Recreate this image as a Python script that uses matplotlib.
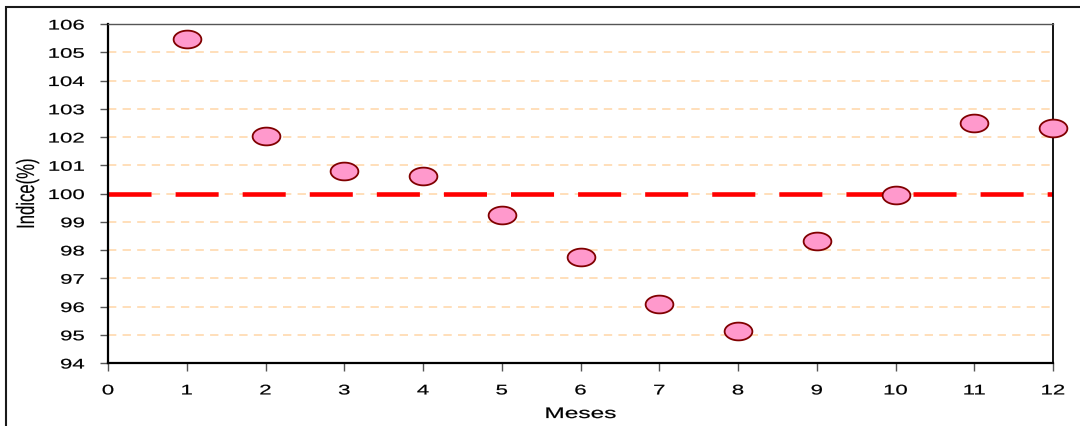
import matplotlib
matplotlib.use("Agg")
import matplotlib.pyplot as plt
from matplotlib.path import Path
from matplotlib.patches import Rectangle
from matplotlib.patheffects import AbstractPathEffect
from matplotlib.transforms import Affine2D
import numpy as np

# Monthly index values (%)
meses = [1, 2, 3, 4, 5, 6, 7, 8, 9, 10, 11, 12]
indice = [105.47, 102.04, 100.80, 100.62, 99.24, 97.75, 96.09, 95.13, 98.32, 99.95, 102.50, 102.32]
referencia = 100
x_ticks = list(range(0, 13))
y_ticks = list(range(94, 107))

plt.rcParams['font.family'] = ['Liberation Sans', 'DejaVu Sans']
plt.rcParams['lines.scale_dashes'] = False


class Stretch(AbstractPathEffect):
    """Widen glyphs in their own coordinates (sx along the line, sy across it),
    with an optional thin outline in the text colour to thicken strokes."""

    def __init__(self, sx=1.0, sy=1.0, anchor='center', stroke=0.0):
        super().__init__()
        self.sx, self.sy, self.anchor, self.stroke = sx, sy, anchor, stroke

    def draw_path(self, renderer, gc, tpath, affine, rgbFace=None):
        ext = tpath.get_extents()
        if self.anchor == 'right':
            cx = ext.x1
        elif self.anchor == 'left':
            cx = ext.x0
        else:
            cx = 0.5 * (ext.x0 + ext.x1)
        pre = Affine2D().translate(-cx, 0).scale(self.sx, self.sy).translate(cx, 0)
        gc0 = renderer.new_gc()
        gc0.copy_properties(gc)
        if self.stroke > 0 and rgbFace is not None:
            gc0.set_linewidth(self.stroke)
            gc0.set_foreground(rgbFace)
        renderer.draw_path(gc0, tpath, pre + affine, rgbFace)
        gc0.restore()


fig = plt.figure(figsize=(10.8, 4.26), dpi=100)
ax = fig.add_axes([108 / 1080, 1 - 363 / 426, (1053 - 108) / 1080, (363 - 24) / 426])

# outer frame around the chart
fig.patches.append(Rectangle((6 / 1080, -0.05), 1.1, 1 - 7 / 426 + 0.05,
                             transform=fig.transFigure, fill=False,
                             edgecolor='#1a1a1a', linewidth=1.5))

ax.set_xlim(0, 12)
ax.set_ylim(94, 106)
ax.set_xticks(x_ticks)
ax.set_yticks(y_ticks)

# light horizontal grid lines
for yv in y_ticks[1:-1]:
    ax.axhline(yv, color='#FFD9AE', linewidth=1.2, dashes=(6, 4.5), zorder=1)

# reference line at 100
ax.axhline(referencia, color='#FF0000', linewidth=3.3, dashes=(31, 17.3),
           solid_capstyle='butt', dash_capstyle='butt', zorder=2)

# elliptical marker
t = np.linspace(0, 2 * np.pi, 60)
ellipse = Path(np.column_stack([np.cos(t), 0.64 * np.sin(t)]), closed=True)
ax.plot(meses, indice, linestyle='none', marker=ellipse, markersize=20,
        markerfacecolor='#FF99CC', markeredgecolor='#800000', markeredgewidth=1.3,
        clip_on=False, zorder=3)

for side in ['left', 'bottom']:
    ax.spines[side].set_linewidth(1.6)
    ax.spines[side].set_color('black')
ax.spines['right'].set_linewidth(1.3)
ax.spines['right'].set_color('black')
ax.spines['top'].set_linewidth(1.0)
ax.spines['top'].set_color('#555555')

ax.tick_params(axis='both', direction='out', length=5.5, width=1, color='#555555',
               labelsize=10, labelcolor='black')
ax.tick_params(axis='x', pad=9.2)
ax.tick_params(axis='y', pad=11.5)

for lab in ax.get_xticklabels():
    lab.set_path_effects([Stretch(sx=1.6, anchor='center', stroke=0.15)])
for lab in ax.get_yticklabels():
    lab.set_path_effects([Stretch(sx=1.6, anchor='right', stroke=0.15)])

xl = ax.set_xlabel('Meses', fontsize=11)
xl.set_path_effects([Stretch(sx=1.6, anchor='center', stroke=0.15)])
xl.set_verticalalignment('baseline')
ax.xaxis.set_label_coords(0.5, (363 - 418) / 339)

yl = ax.set_ylabel('Indice(%)', fontsize=12)
yl.set_path_effects([Stretch(sy=1.5, anchor='center', stroke=0.1)])
yl.set_rotation_mode('anchor')
yl.set_verticalalignment('baseline')
yl.set_horizontalalignment('center')
ax.yaxis.set_label_coords((34 - 108) / 945, 0.5)

fig.savefig('out.png', dpi=100)
